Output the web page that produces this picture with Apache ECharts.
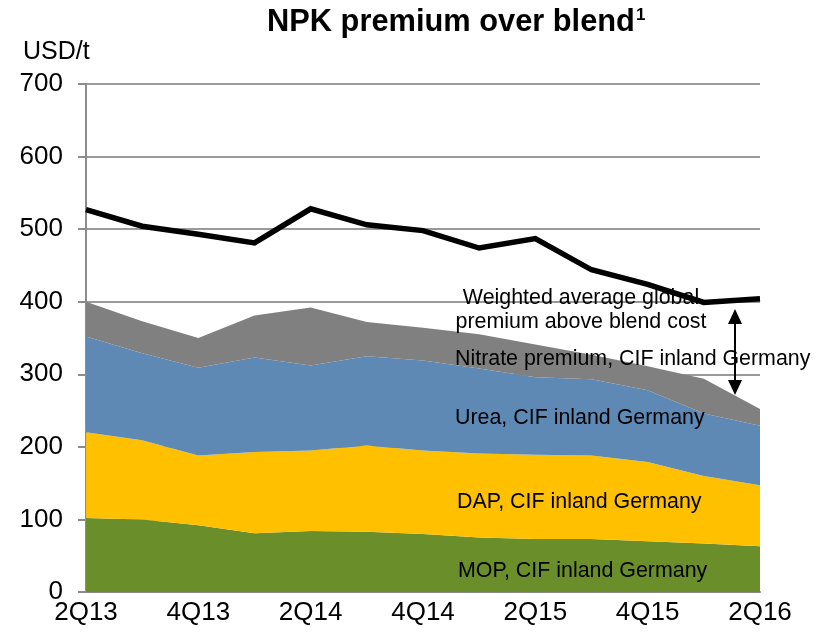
<!DOCTYPE html>
<html>
<head>
<meta charset="utf-8">
<script src="https://cdn.jsdelivr.net/npm/echarts@6/dist/echarts.min.js"></script>
<style>
html,body{margin:0;padding:0;background:#fff;}
#chart{width:825px;height:637px;}
</style>
</head>
<body>
<div id="chart"></div>
<script>
var categories = ['2Q13','3Q13','4Q13','1Q14','2Q14','3Q14','4Q14','1Q15','2Q15','3Q15','4Q15','1Q16','2Q16'];
var mop = [102, 100, 92, 81, 84, 83, 80, 75, 73, 73, 70, 67, 63];
var dap = [118, 109, 96, 112, 111, 119, 115, 116, 116, 115, 109, 93, 84];
var urea = [132, 120, 121, 130, 117, 123, 124, 117, 107, 105, 99, 86, 82];
var nitrate = [48, 44, 41, 58, 80, 47, 45, 47, 45, 34, 33, 48, 23];
var weightedAvg = [527, 504, 493, 481, 528, 506, 498, 474, 487, 444, 424, 399, 404];
var yTicks = [0, 100, 200, 300, 400, 500, 600, 700];

var FONT = "'Liberation Sans', Arial, sans-serif";
var chart = echarts.init(document.getElementById('chart'), null, {renderer: 'canvas'});

function area(name, data, color) {
  return {
    name: name, type: 'line', stack: 'npk', data: data,
    symbol: 'none', silent: true,
    lineStyle: {width: 0},
    areaStyle: {color: color, opacity: 1},
    z: 2
  };
}

var option = {
  animation: false,
  backgroundColor: '#ffffff',
  textStyle: {fontFamily: FONT},
  grid: {left: 86, right: 65, top: 84, bottom: 45, containLabel: false},
  xAxis: {
    type: 'category', data: categories, boundaryGap: false,
    axisLine: {show: true, lineStyle: {color: '#8c8c8c', width: 2}},
    axisTick: {show: false},
    axisLabel: {interval: 1, color: '#000', fontSize: 26, fontFamily: FONT, margin: 8},
    splitLine: {show: false}
  },
  yAxis: {
    type: 'value', min: yTicks[0], max: yTicks[yTicks.length - 1], interval: 100,
    axisLine: {show: true, lineStyle: {color: '#8c8c8c', width: 2}},
    axisTick: {show: true, inside: false, length: 8, lineStyle: {color: '#8c8c8c', width: 2}},
    axisLabel: {color: '#000', fontSize: 26, fontFamily: FONT, margin: 23},
    splitLine: {show: true, lineStyle: {color: '#9a9a9a', width: 2}}
  },
  series: [
    area('MOP, CIF inland Germany', mop, '#6a8e2a'),
    area('DAP, CIF inland Germany', dap, '#ffc000'),
    area('Urea, CIF inland Germany', urea, '#5d89b4'),
    area('Nitrate premium, CIF inland Germany', nitrate, '#808080'),
    {
      name: 'Weighted average', type: 'line', data: weightedAvg,
      symbol: 'none', silent: true,
      lineStyle: {color: '#000', width: 5.5, join: 'miter'},
      z: 5
    }
  ],
  graphic: [
    {type: 'text', left: 267, top: 7, z: 100,
      style: {
        text: '{a|NPK premium over blend}{s|1}',
        rich: {
          a: {fontSize: 30.8, fontWeight: 'bold', fontFamily: FONT, fill: '#000'},
          s: {fontSize: 17, fontWeight: 'bold', fontFamily: FONT, fill: '#000', verticalAlign: 'top', padding: [0, 0, 14, 1]}
        }
      }
    },
    {type: 'text', left: 23, top: 40, z: 100,
      style: {text: 'USD/t', fontSize: 25, fontFamily: FONT, fill: '#000'}},
    {type: 'text', x: 581, y: 298, z: 1,
      style: {text: 'Weighted average global', fontSize: 21.4, fontFamily: FONT, fill: '#000', align: 'center', verticalAlign: 'middle'}},
    {type: 'text', x: 581, y: 322, z: 100,
      style: {text: 'premium above blend cost', fontSize: 21.4, fontFamily: FONT, fill: '#000', align: 'center', verticalAlign: 'middle'}},
    {type: 'text', x: 455, y: 359, z: 100,
      style: {text: 'Nitrate premium, CIF inland Germany', fontSize: 21.4, fontFamily: FONT, fill: '#000', align: 'left', verticalAlign: 'middle'}},
    {type: 'text', x: 455, y: 418, z: 100,
      style: {text: 'Urea, CIF inland Germany', fontSize: 21.4, fontFamily: FONT, fill: '#000', align: 'left', verticalAlign: 'middle'}},
    {type: 'text', x: 457, y: 502, z: 100,
      style: {text: 'DAP, CIF inland Germany', fontSize: 21.4, fontFamily: FONT, fill: '#000', align: 'left', verticalAlign: 'middle'}},
    {type: 'text', x: 458, y: 571, z: 100,
      style: {text: 'MOP, CIF inland Germany', fontSize: 21.4, fontFamily: FONT, fill: '#000', align: 'left', verticalAlign: 'middle'}},
    {type: 'line', z: 100, shape: {x1: 735, y1: 320, x2: 735, y2: 384}, style: {stroke: '#000', lineWidth: 2}},
    {type: 'polygon', z: 100, shape: {points: [[735, 309], [728, 324], [742, 324]]}, style: {fill: '#000'}},
    {type: 'polygon', z: 100, shape: {points: [[735, 395], [728, 380], [742, 380]]}, style: {fill: '#000'}}
  ]
};
chart.setOption(option);
</script>
</body>
</html>
